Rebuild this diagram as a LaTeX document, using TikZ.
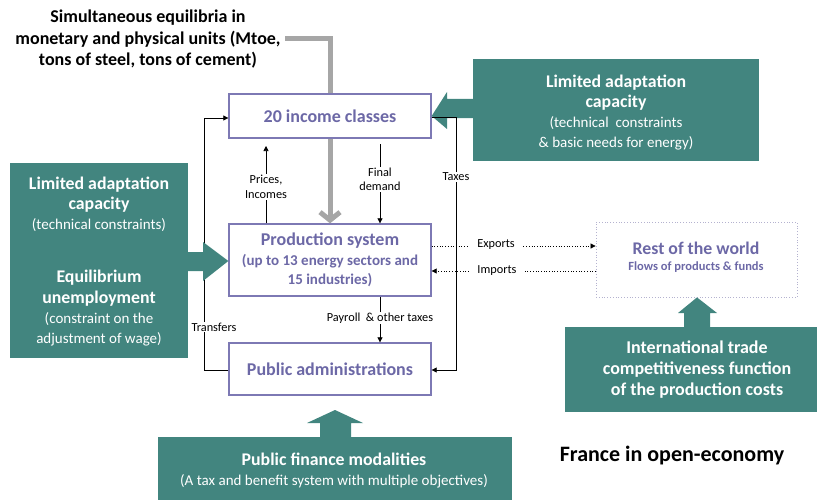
\documentclass[tikz,border=0pt]{standalone}
\usepackage{fontspec}
\setmainfont{Carlito}
\usetikzlibrary{arrows.meta,calc}
\definecolor{tealc}{HTML}{42857F}
\definecolor{purp}{HTML}{7D79B4}
\definecolor{purptxt}{HTML}{6C68A6}
\definecolor{grayarr}{HTML}{A6A6A6}
\definecolor{rowbd}{HTML}{B4B2CF}
\newcommand{\bigb}[1]{{\bfseries\fontsize{17.8}{20}\selectfont #1}}
\newcommand{\smr}[1]{{\fontsize{15}{20}\selectfont #1}}
\begin{document}
\begin{tikzpicture}[x=1pt,y=-1pt,
  box/.style={draw=purp, line width=1.3pt, fill=white, inner sep=0pt, align=center, text=purptxt, font=\bfseries\fontsize{18}{19.5}\selectfont},
  tealbox/.style={fill=tealc, inner sep=0pt, draw=none},
  tealtxt/.style={inner sep=0pt, align=center, text=white},
  tealarrow/.style={fill=tealc, draw=none},
  lbl/.style={fill=white, inner sep=1.2pt, align=center, font=\fontsize{12.3}{14.5}\selectfont},
  blk/.style={line width=0.7pt, -{Triangle[length=5pt,width=5pt]}},
  dotarr/.style={dotted, line width=0.7pt, -{Triangle[length=5pt,width=5pt]}},
  grayline/.style={draw=grayarr, line width=5pt},
]
\useasboundingbox (0,0) rectangle (818,500);

% main boxes
\node[box, minimum width=202pt, minimum height=44pt] (inc) at (330,116) {20 income classes};
\node[box, minimum width=202pt, minimum height=72pt] (prod) at (330,260) {Production system\\{\fontsize{15}{19.5}\selectfont (up to 13 energy sectors and}\\{\fontsize{15}{19.5}\selectfont 15 industries)}};
\node[box, minimum width=202pt, minimum height=52pt] (pub) at (330,369) {Public administrations};
\node[draw=rowbd, dotted, line width=0.8pt, inner sep=0pt, minimum width=201pt, minimum height=75pt] (row) at (696.5,259.5) {};
\node[inner sep=0pt, text=purptxt, font=\bfseries\fontsize{17.8}{19}\selectfont] (rowt) at (696,248) {Rest of the world};
\node[inner sep=0pt, text=purptxt, font=\bfseries\fontsize{12.5}{13}\selectfont] (rows) at (696,267) {Flows of products \& funds};

% top text
\node[inner sep=0pt, align=center, font=\bfseries\fontsize{18}{21.5}\selectfont] (eq) at (148,39.5) {Simultaneous equilibria in\\monetary and physical units (Mtoe,\\tons of steel, tons of cement)};
\coordinate (gstart) at (285,39);
\draw[grayline] (gstart) -- (gstart -| inc.north) -- (inc.north);
\draw[grayline, -{Straight Barb[length=8pt,width=20pt]}] (inc.south) -- (prod.north);

% right teal (drawn below lines)
\node[tealbox, minimum width=286pt, minimum height=102pt] (rt) at (616,110) {};
\fill[tealarrow] (473,99) -- (447,99) -- (447,92) -- (inc.east) -- (447,129) -- (447,118) -- (473,118) -- cycle;
\node[tealtxt, font=\fontsize{15}{19.7}\selectfont] (rtt) at (616,112.5) {\bigb{Limited adaptation}\\\bigb{capacity}\\\smr{(technical\ \ constraints}\\\smr{\& basic needs for energy)}};

% thin connectors
\coordinate (tr) at (204,118);
\draw[blk] (pub.west |- 0,370) -| (tr) -- (inc.west |- tr);
\node[lbl] (transf) at (214,327) {Transfers};

\coordinate (tx) at (456,117);
\draw[blk] (inc.east |- tx) -- (tx) |- (pub.east |- 0,370);
\node[lbl] (taxes) at (456,177) {Taxes};

\coordinate (pc) at (266,146);
\draw[blk] (prod.north -| pc) -- (pc);
\node[lbl] (prices) at (266,187) {Prices,\\Incomes};

\coordinate (fd) at (380,144);
\draw[blk] (fd) -- (prod.north -| fd);
\node[lbl] (fdl) at (380,179.5) {Final\\demand};

\coordinate (pay) at (380,300);
\draw[blk] (prod.south -| pay) -- (pub.north -| pay);
\node[lbl] (payl) at (380,318) {Payroll\ \ \& other taxes};

\coordinate (ex) at (500,246);
\coordinate (im) at (500,271);
\draw[dotarr] (prod.east |- ex) -- (row.west |- ex);
\draw[dotarr] (row.west |- im) -- (prod.east |- im);
\node[lbl, inner xsep=8pt] (exl) at (496,245) {Exports};
\node[lbl, inner xsep=8pt] (iml) at (497,270.5) {Imports};

% left teal
\node[tealbox, minimum width=178pt, minimum height=195pt] (lt) at (99,260.5) {};
\fill[tealarrow] (188,252) -- (203,252) -- (203,242) -- (prod.west |- 0,261) -- (203,281) -- (203,271) -- (188,271) -- cycle;
\node[tealtxt, font=\fontsize{15}{20.2}\selectfont] (ltt) at (99,261.5) {\bigb{Limited adaptation}\\\bigb{capacity}\\\smr{(technical constraints)}\\[33pt]\bigb{Equilibrium}\\\bigb{unemployment}\\\smr{(constraint on the}\\\smr{adjustment of wage)}};

% bottom-right teal
\node[tealbox, minimum width=252pt, minimum height=85pt] (br) at (691,369.5) {};
\fill[tealarrow] (684,327) -- (684,313) -- (678,313) -- (row.south -| 697,0) -- (717,313) -- (710,313) -- (710,327) -- cycle;
\node[tealtxt, font=\bfseries\fontsize{18}{21}\selectfont] (brt) at (697,370) {International trade\\competitiveness function\\of the production costs};

% bottom teal
\node[tealbox, minimum width=354pt, minimum height=63pt] (bt) at (335,468.5) {};
\fill[tealarrow] (320,437) -- (320,423) -- (307,423) -- (335,410) -- (363,423) -- (351,423) -- (351,437) -- cycle;
\node[tealtxt, font=\fontsize{15}{20}\selectfont] (btt) at (334,471) {\bigb{Public finance modalities}\\\smr{(A tax and benefit system with multiple objectives)}};

% title
\node[inner sep=0pt, font=\bfseries\fontsize{22}{26}\selectfont] (title) at (672,456) {France in open-economy};
\end{tikzpicture}
\end{document}
